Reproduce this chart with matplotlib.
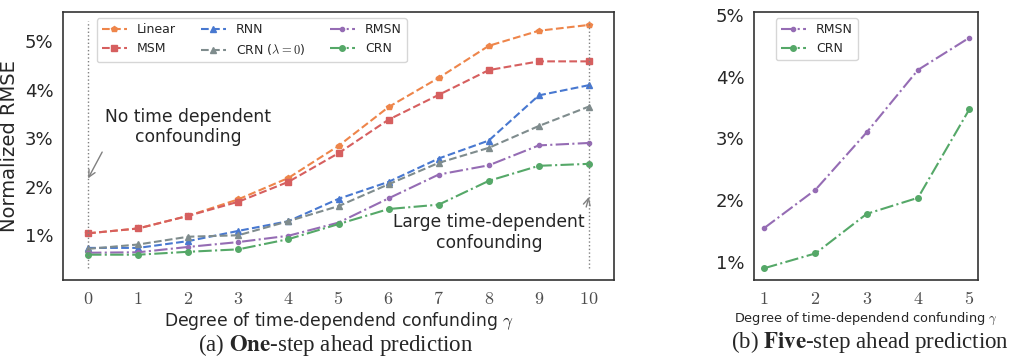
import numpy as np
import matplotlib
matplotlib.use("Agg")
import matplotlib.pyplot as plt
import seaborn as sns

sns.set_style("white")
plt.rcParams['font.family'] = ['DejaVu Sans']
plt.rcParams['mathtext.fontset'] = 'cm'

# one-step ahead (a)
gamma = [0, 1, 2, 3, 4, 5, 6, 7, 8, 9, 10]
linear = [1.04, 1.14, 1.40, 1.74, 2.18, 2.84, 3.64, 4.24, 4.90, 5.21, 5.33]
msm = [1.04, 1.14, 1.40, 1.69, 2.10, 2.69, 3.38, 3.89, 4.40, 4.58, 4.58]
rnn = [0.74, 0.74, 0.88, 1.09, 1.29, 1.75, 2.10, 2.58, 2.95, 3.88, 4.09]
crn0 = [0.72, 0.81, 0.97, 1.00, 1.29, 1.60, 2.05, 2.49, 2.80, 3.25, 3.65]
rmsn = [0.64, 0.65, 0.76, 0.86, 0.99, 1.26, 1.76, 2.25, 2.44, 2.85, 2.90]
crn = [0.60, 0.60, 0.66, 0.71, 0.92, 1.23, 1.54, 1.63, 2.12, 2.43, 2.47]

# five-step ahead (b)
gamma5 = [1, 2, 3, 4, 5]
rmsn5 = [1.55, 2.17, 3.10, 4.11, 4.63]
crn5 = [0.90, 1.14, 1.78, 2.04, 3.47]

c_orange = '#EE854A'
c_red = '#D65F5F'
c_blue = '#4878D0'
c_gray = '#7f8c8d'
c_purple = '#956CB4'
c_green = '#55A868'

fig = plt.figure(figsize=(10.1, 3.58), dpi=100)
ax1 = fig.add_axes([0.0624, 0.218, 0.5455, 0.749])
ax2 = fig.add_axes([0.7465, 0.218, 0.2218, 0.749])

ax1.plot(gamma, linear, '--', marker='p', ms=4, color=c_orange, label='Linear')
ax1.plot(gamma, msm, '--', marker='s', ms=5, color=c_red, label='MSM')
ax1.plot(gamma, rnn, '--', marker='^', ms=5, color=c_blue, label='RNN')
ax1.plot(gamma, crn0, '--', marker='^', ms=5, color=c_gray, label=r'CRN ($\lambda=0$)')
ax1.plot(gamma, rmsn, '-.', marker='.', ms=6, color=c_purple, label='RMSN')
ax1.plot(gamma, crn, '-.', marker='o', ms=4, color=c_green, label='CRN')

ax1.vlines([0, 10], 0.33, 5.42, colors='gray', linestyles=':', lw=1)

ax1.annotate('No time dependent\nconfounding', xy=(0, 2.17), xytext=(2.0, 3.23),
             ha='center', va='center', fontsize=12.3, color='.15',
             arrowprops=dict(arrowstyle='->', color='gray', relpos=(0, 0), shrinkA=2, shrinkB=0))
ax1.annotate('Large time-dependent\nconfounding', xy=(10, 1.79), xytext=(8.0, 1.06),
             ha='center', va='center', fontsize=12.3, color='.15',
             arrowprops=dict(arrowstyle='->', color='gray', relpos=(1, 1), shrinkA=2, shrinkB=0))

ax1.set_xlim(-0.5, 10.5)
ax1.set_ylim(0.08, 5.6)
ax1.set_xticks(gamma)
ax1.set_xticklabels(['$%d$' % g for g in gamma], fontsize=13, color='.3')
ax1.set_yticks([1, 2, 3, 4, 5])
ax1.set_yticklabels(['1%', '2%', '3%', '4%', '5%'], fontsize=13)
ax1.set_ylabel('Normalized RMSE', fontsize=14)
ax1.set_xlabel(r'Degree of time-dependend confunding $\gamma$', fontsize=12.3, labelpad=2)
ax1.legend(ncol=3, loc='upper left', bbox_to_anchor=(0.05, 1.0), fontsize=9)

ax2.plot(gamma5, rmsn5, '-.', marker='.', ms=6, color=c_purple, label='RMSN')
ax2.plot(gamma5, crn5, '-.', marker='o', ms=4, color=c_green, label='CRN')
ax2.set_xlim(0.8, 5.17)
ax2.set_ylim(0.71, 5.05)
ax2.set_xticks(gamma5)
ax2.set_xticklabels(['$%d$' % g for g in gamma5], fontsize=13, color='.3')
ax2.set_yticks([1, 2, 3, 4, 5])
ax2.set_yticklabels(['1%', '2%', '3%', '4%', '5%'], fontsize=13)
ax2.set_xlabel(r'Degree of time-dependend confunding $\gamma$', fontsize=9.3, labelpad=2)
ax2.legend(loc='upper left', bbox_to_anchor=(0.07, 1.0), fontsize=9)

for ax in (ax1, ax2):
    for s in ax.spines.values():
        s.set_color('.2')
        s.set_linewidth(1.2)

fig.text(0.332, 0.035, r'(a) $\mathbf{One}$-step ahead prediction', ha='center', va='center',
         family='Liberation Serif', math_fontfamily='stix', fontsize=16.5)
fig.text(0.861, 0.045, r'(b) $\mathbf{Five}$-step ahead prediction', ha='center', va='center',
         family='Liberation Serif', math_fontfamily='stix', fontsize=16.5)

fig.savefig('out.png', dpi=100)
